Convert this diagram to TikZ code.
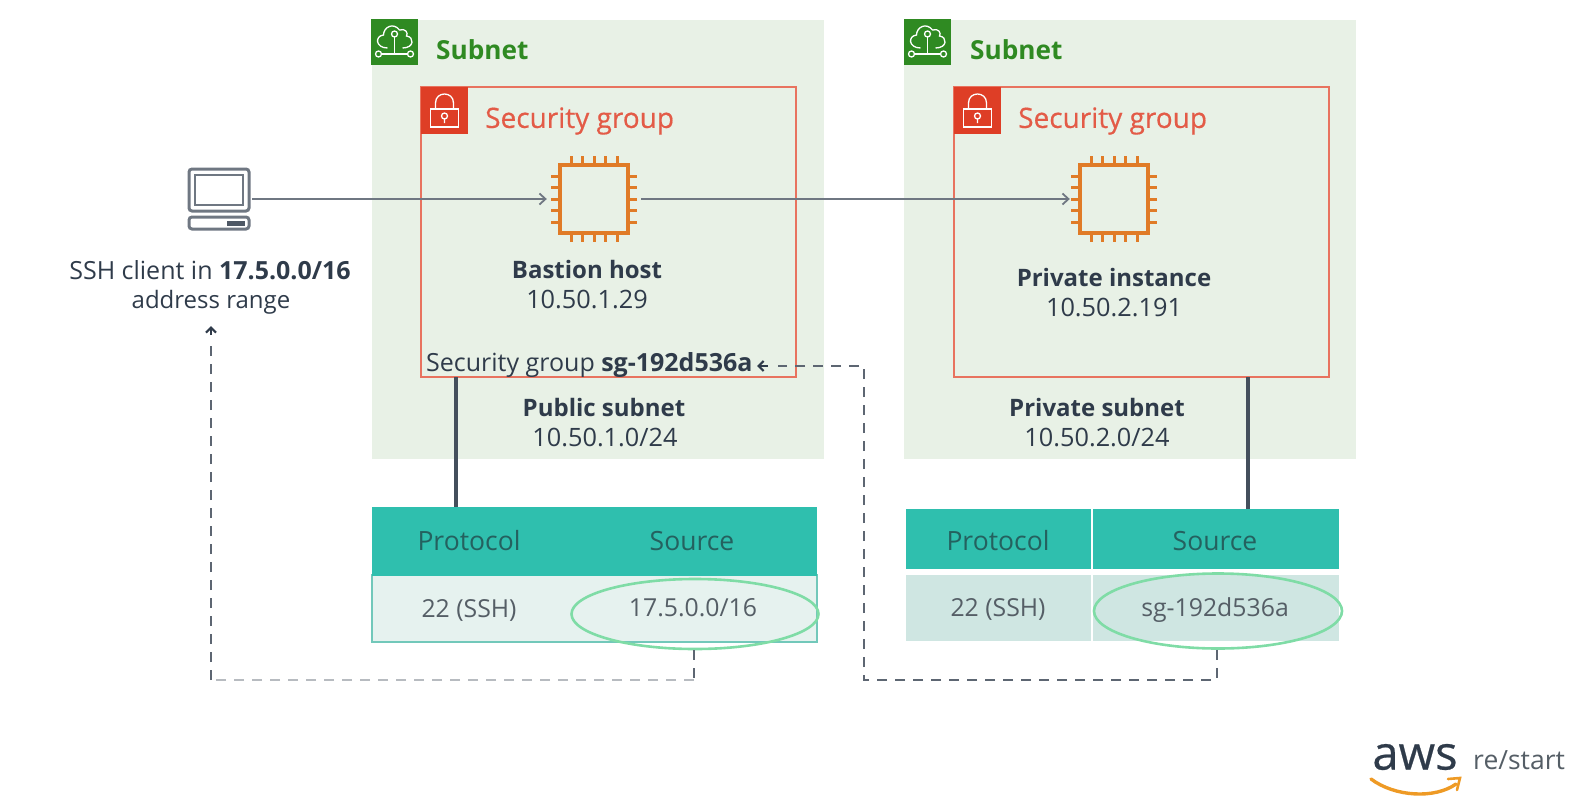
\documentclass[tikz,border=0pt]{standalone}
\usepackage{fontspec}
\setmainfont{Open Sans}
\newfontfamily\heavyish[FakeBold=0.5]{Open Sans}
\usetikzlibrary{arrows.meta,shapes.geometric}
\definecolor{subnetbg}{HTML}{E8F1E6}
\definecolor{subnetgreen}{HTML}{2F8A22}
\definecolor{sgred}{HTML}{DE3E26}
\definecolor{sgline}{HTML}{E8735F}
\definecolor{ink}{HTML}{2F3B4A}
\definecolor{chip}{HTML}{E07B27}
\definecolor{teal}{HTML}{2FBFAE}
\definecolor{tealink}{HTML}{24615F}
\definecolor{rowa}{HTML}{E6F2EF}
\definecolor{rowb}{HTML}{CFE6E2}
\definecolor{rowline}{HTML}{72C8BA}
\definecolor{oval}{HTML}{7FDCA6}
\definecolor{conn}{HTML}{6F7782}
\definecolor{graytxt}{HTML}{555E66}
\definecolor{swoosh}{HTML}{EE9A25}
\newcommand{\fs}[1]{\fontsize{#1}{#1}\selectfont}
\tikzset{
  x=1pt,y=-1pt,
  subnetbox/.style={fill=subnetbg,draw=none},
  sgbox/.style={draw=sgline,line width=2pt},
  lbl/.style={text=ink,font=\fs{24},inner sep=0pt,anchor=center},
  iplbl/.style={text=ink,font=\fs{25.3},inner sep=0pt,anchor=center},
  cell/.style={text=graytxt,font=\fs{24.8},inner sep=0pt,anchor=center},
  headcell/.style={text=tealink,font=\fs{26.5},inner sep=0pt,anchor=center},
  subnettitle/.style={text=subnetgreen,font=\fs{26.2},inner sep=0pt,anchor=west},
  sgtitle/.style={text=sgred!85!white,font=\heavyish\fs{28},inner sep=0pt,anchor=west},
  iconhold/.style={draw=none,minimum size=#1,inner sep=0pt},
  flow/.style={draw=conn,line width=1.8pt,-{Straight Barb[length=6pt,width=11pt,line width=1.8pt]}},
  dashflow/.style={draw=ink!78,line width=2.6pt,dash pattern=on 10pt off 8pt},
  lightflow/.style={draw=conn!50,line width=2.2pt,dash pattern=on 10pt off 8pt},
  stub/.style={draw=ink!90,line width=3.4pt},
  ovalmark/.style={ellipse,draw=oval,line width=2.6pt,inner sep=0pt},
  tipped/.style={draw=ink,line width=2.2pt,-{Straight Barb[length=5pt,width=10pt,line width=2.2pt]}},
}
\newcommand{\cloudicon}[2]{%
  \begin{scope}[shift={(#1,#2)},draw=white,line width=1.3pt,fill=none]
    \draw (-7,6) .. controls (-19,6) and (-20,-6) .. (-11,-7)
          .. controls (-11,-15) and (-1,-20) .. (5,-12)
          .. controls (11,-14) and (14,-9) .. (12,-6)
          .. controls (20,-5) and (20,6) .. (8,6);
    \draw (0,-8) circle[radius=3];
    \draw (0,-5) -- (0,12) (-13,12) -- (13,12);
    \draw (-16,12) circle[radius=3] (16,12) circle[radius=3];
  \end{scope}}
\newcommand{\lockicon}[2]{%
  \begin{scope}[shift={(#1,#2)},draw=white,line width=1.3pt]
    \draw (-14,-4) rectangle (14,14);
    \draw (-9,-4) -- (-9,-10) .. controls (-9,-22) and (9,-22) .. (9,-10) -- (9,-4);
    \draw (0,3) circle[radius=3] (0,6) -- (0,10);
  \end{scope}}
\newcommand{\chipicon}[2]{%
  \begin{scope}[shift={(#1,#2)},draw=chip,line width=3pt]
    \draw[line width=4pt] (-34,-34) rectangle (34,34);
    \foreach \t in {-23,-11.5,0,11.5,23}{
      \draw (\t,-34) -- (\t,-43) (\t,34) -- (\t,43) (-34,\t) -- (-43,\t) (34,\t) -- (43,\t);
    }
  \end{scope}}
\newcommand{\laptopicon}[2]{%
  \begin{scope}[shift={(#1,#2)},draw=conn,line width=3pt]
    \draw[rounded corners=3pt] (-30,-30) rectangle (30,12);
    \draw[line width=1.6pt] (-24,-24) rectangle (24,6);
    \draw[rounded corners=3pt] (-30,18) rectangle (30,30);
    \fill[ink!85] (8,21.5) rectangle (26,27);
  \end{scope}}
\begin{document}
\begin{tikzpicture}
\useasboundingbox (0,0) rectangle (1579,803);
% subnets
\fill[subnetbox] (372,20) rectangle (824,459);
\fill[subnetbox] (904,20) rectangle (1356,459);
\fill[subnetgreen] (371,19) rectangle (418,65);
\fill[subnetgreen] (904,19) rectangle (951,65);
\cloudicon{394.5}{42}
\cloudicon{927.5}{42}
\node[subnettitle] (subA) at (436,49.5) {\textbf{Subnet}};
\node[subnettitle] (subB) at (970,49.5) {\textbf{Subnet}};
% security groups
\draw[sgbox] (421,87) rectangle (796,377);
\draw[sgbox] (954,87) rectangle (1329,377);
\fill[sgred] (421,87) rectangle (468,134);
\fill[sgred] (954,87) rectangle (1001,134);
\lockicon{444.5}{113}
\lockicon{977.5}{113}
\node[sgtitle] (sgA) at (485,121) {Security group};
\node[sgtitle] (sgB) at (1018,121) {Security group};
% stubs to tables
\coordinate (stubA) at (456,377);
\coordinate (stubB) at (1248,377);
% chips and client
\chipicon{594}{199}
\chipicon{1114}{199}
\laptopicon{219}{199}
\node[iconhold=94pt] (bastion) at (594,199) {};
\node[iconhold=88pt] (private) at (1114,199) {};
\node[iconhold=66pt] (client) at (219,199) {};
\draw[flow] (client.east) -- (bastion.west);
\draw[flow] (bastion.east) -- (private.west);
% labels
\node[lbl] (bhn) at (587,269) {\textbf{Bastion host}};
\node[iplbl] (bhi) at (587,300) {10.50.1.29};
\node[lbl] (pin) at (1114,277) {\textbf{Private instance}};
\node[iplbl] (pii) at (1114,308) {10.50.2.191};
\node[lbl] (pun) at (604,407) {\textbf{Public subnet}};
\node[iplbl] (pui) at (605,438) {10.50.1.0/24};
\node[lbl] (prn) at (1097,407) {\textbf{Private subnet}};
\node[iplbl] (pri) at (1097,438) {10.50.2.0/24};
\node[lbl,font=\fs{25}] (ssha) at (210,270) {SSH client in \textbf{17.5.0.0/16}};
\node[lbl] (sshb) at (211,302) {address range};
\node[lbl,font=\fs{25},anchor=west] (sgid) at (426,365) {Security group \textbf{sg-192d536a}};
% table A
\fill[rowa] (372,575) rectangle (817,642);
\draw[rowline,line width=1.4pt] (372,575) rectangle (817,642);
\fill[teal] (372,507) rectangle (817,576);
\node[headcell] (ap) at (469,541) {Protocol};
\node[headcell] (as) at (692,541) {Source};
\node[cell] (av) at (469,610) {22 (SSH)};
\node[cell] (aw) at (693,608) {17.5.0.0/16};
\node[ovalmark,minimum width=247pt,minimum height=70pt] (ovalA) at (695,614) {};
% table B
\fill[teal] (906,509) rectangle (1091,569);
\fill[teal] (1093,509) rectangle (1339,569);
\fill[rowb] (906,575) rectangle (1091,641);
\fill[rowb] (1093,575) rectangle (1339,641);
\node[headcell] (bp) at (998,541) {Protocol};
\node[headcell] (bs) at (1215,541) {Source};
\node[cell] (bv) at (998,609) {22 (SSH)};
\node[cell] (bw) at (1215,610) {sg-192d536a};
\node[ovalmark,minimum width=248pt,minimum height=75pt] (ovalB) at (1218,611) {};
% connectors
\draw[stub] (stubA) -- (456,507);
\draw[stub] (stubB) -- (1248,509);
\coordinate (turnA) at (694,680);
\coordinate (turnB) at (211,680);
\coordinate (turnC) at (1217,680);
\coordinate (turnD) at (864,680);
\coordinate (turnE) at (864,366);
\coordinate (tipA) at (211,326);
\coordinate (tipB) at (757,366);
\draw[dashflow] (ovalA.south -| turnA) -- (turnA);
\draw[lightflow] (turnA) -- (turnB);
\draw[dashflow] (turnB) -- (211,342);
\draw[tipped] (211,335) -- (tipA);
\draw[dashflow] (ovalB.south -| turnC) -- (turnC) -- (turnD) -- (turnE) -- (778,366);
\draw[tipped] (768,366) -- (tipB);
% logo
\node[inner sep=0pt,text=ink,font=\heavyish\fs{47},anchor=center] (aws) at (1415,757) {aws};
\node[inner sep=0pt,text=graytxt,font=\fs{26.5},anchor=west] (rs) at (1473,760) {re/start};
\draw[swoosh,line width=3.4pt,line cap=round] (1371,779) .. controls (1395,797) and (1435,799) .. (1456,784);
\draw[swoosh,line width=2.6pt,line cap=round] (1448,779) -- (1460,778) -- (1457,790);
\end{tikzpicture}
\end{document}
